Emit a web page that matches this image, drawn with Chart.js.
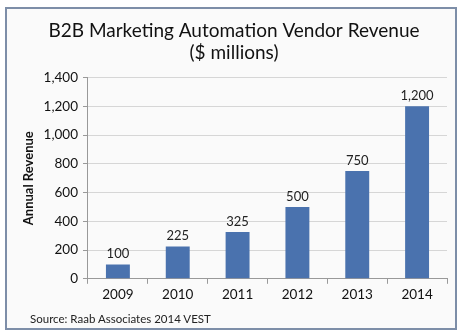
<!DOCTYPE html>
<html>
<head>
<meta charset="utf-8">
<script src="https://cdn.jsdelivr.net/npm/chart.js@4"></script>
<style>
  body { margin: 0; background: #fff; }
  #wrap { position: relative; width: 459px; height: 336px; }
  #source { position: absolute; left: 30px; top: 312px; font: 11.5px Lato, sans-serif; color: #222; }
</style>
</head>
<body>
<div id="wrap">
  <canvas id="chart" width="459" height="336"></canvas>
  <div id="source">Source: Raab Associates 2014 VEST</div>
</div>
<script>
const years = ['2009', '2010', '2011', '2012', '2013', '2014'];
const revenue = [100, 225, 325, 500, 750, 1200];
const titleLines = ['B2B Marketing Automation Vendor Revenue', '($ millions)'];

const frame = {
  id: 'frame',
  beforeDraw(chart) {
    const c = chart.ctx;
    c.save();
    c.fillStyle = '#fafafa';
    c.fillRect(6, 8, 450, 321);
    c.strokeStyle = '#7d8ea8';
    c.lineWidth = 2;
    c.strokeRect(6, 8, 450, 321);
    c.restore();
  }
};

const barLabels = {
  id: 'barLabels',
  afterDatasetsDraw(chart) {
    const c = chart.ctx;
    c.save();
    c.font = '13px Lato, sans-serif';
    c.fillStyle = '#222';
    c.textAlign = 'center';
    c.textBaseline = 'bottom';
    chart.getDatasetMeta(0).data.forEach(function(bar, i) {
      c.fillText(revenue[i].toLocaleString('en-US'), bar.x, bar.y - 4);
    });
    c.restore();
  }
};

new Chart(document.getElementById('chart'), {
  type: 'bar',
  data: {
    labels: years,
    datasets: [{
      data: revenue,
      backgroundColor: '#4a72ae',
      barPercentage: 0.4,
      categoryPercentage: 1
    }]
  },
  options: {
    responsive: false,
    animation: false,
    layout: { padding: { left: 21, right: 12, top: 19, bottom: 30 } },
    plugins: {
      legend: { display: false },
      tooltip: { enabled: false },
      title: {
        display: true,
        text: titleLines,
        color: '#111',
        font: { family: 'Lato', size: 19, weight: 'normal', lineHeight: 1.2 },
        padding: { top: 0, bottom: 13 }
      }
    },
    scales: {
      x: {
        grid: { drawOnChartArea: false, drawTicks: true, tickLength: 5, color: '#999', offset: true },
        border: { color: '#999' },
        ticks: { color: '#111', font: { family: 'Lato', size: 13.5 }, padding: 3 }
      },
      y: {
        min: 0,
        max: 1400,
        ticks: {
          stepSize: 200,
          color: '#111',
          font: { family: 'Lato', size: 13.5 },
          padding: 5,
          callback: v => v.toLocaleString('en-US')
        },
        grid: { color: '#d6d6d6', tickColor: '#999', tickLength: 5 },
        border: { color: '#999' },
        title: {
          display: true,
          text: 'Annual Revenue',
          color: '#111',
          font: { family: 'Lato', size: 13, weight: 'bold' },
          padding: { top: 0, bottom: 2 }
        }
      }
    }
  },
  plugins: [frame, barLabels]
});
</script>
</body>
</html>
